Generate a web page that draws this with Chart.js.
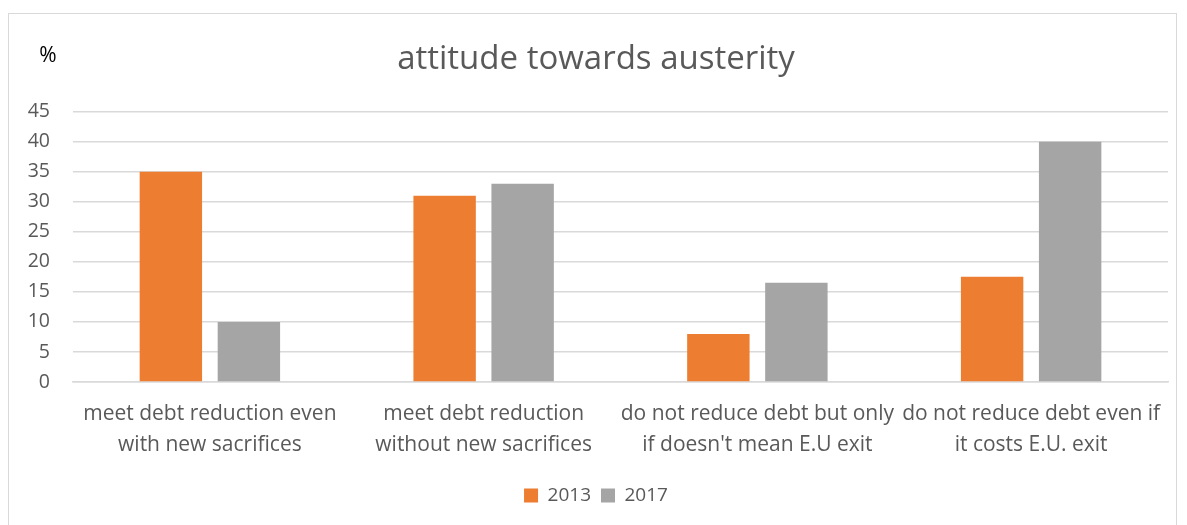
<!DOCTYPE html>
<html>
<head>
<meta charset="utf-8">
<script src="https://cdn.jsdelivr.net/npm/chart.js@4"></script>
<style>
  html, body { margin: 0; padding: 0; background: #fff; }
  #frame { position: absolute; left: 8px; top: 13px; width: 1169px; height: 540px; border: 1px solid #d9d9d9; box-sizing: border-box; }
  #chart { position: absolute; left: 0; top: 0; }
</style>
</head>
<body>
<div id="frame"></div>
<canvas id="chart" width="1187" height="525"></canvas>
<script>
const categories = [
  ['meet debt reduction even', 'with new sacrifices'],
  ['meet debt reduction', 'without new sacrifices'],
  ['do not reduce debt but only', "if doesn't mean E.U exit"],
  ['do not reduce debt even if', 'it costs E.U. exit']
];
const values2013 = [35, 31, 8, 17.5];
const values2017 = [10, 33, 16.5, 40];
const yTicks = { min: 0, max: 45, step: 5 };

const txt = '#595959';
const font = '"Open Sans", Lato, sans-serif';

// percent sign above the y axis
const percentLabel = {
  id: 'percentLabel',
  afterDraw(chart) {
    const ctx = chart.ctx;
    ctx.save();
    ctx.font = '21px ' + font;
    ctx.fillStyle = '#000';
    ctx.textAlign = 'center';
    ctx.textBaseline = 'middle';
    ctx.fillText('%', 48, 56);
    ctx.restore();
  }
};

new Chart(document.getElementById('chart'), {
  type: 'bar',
  data: {
    labels: categories,
    datasets: [
      { label: '2013', data: values2013, backgroundColor: '#ED7D31' },
      { label: '2017', data: values2017, backgroundColor: '#A5A5A5' }
    ]
  },
  options: {
    responsive: false,
    animation: false,
    layout: { padding: { left: 24, right: 19, top: 0, bottom: 10 } },
    datasets: { bar: { categoryPercentage: 0.57, barPercentage: 0.8 } },
    scales: {
      x: {
        grid: { display: false, drawTicks: false },
        border: { color: '#d9d9d9', width: 1.5 },
        ticks: { color: txt, font: { family: font, size: 21, lineHeight: 1.45 }, padding: 17, maxRotation: 0, autoSkip: false },
        afterFit(scale) { scale.height = 94; }
      },
      y: {
        min: yTicks.min,
        max: yTicks.max,
        grid: { color: '#d9d9d9', lineWidth: 1.5, drawTicks: false },
        border: { display: false },
        ticks: { stepSize: yTicks.step, color: txt, font: { family: font, size: 19.5 }, padding: 23 },
        afterFit(scale) { scale.width = 49; }
      }
    },
    plugins: {
      title: {
        display: true,
        text: 'attitude towards austerity',
        color: txt,
        font: { family: font, size: 33, weight: 'normal' },
        padding: { top: 40, bottom: 32 }
      },
      legend: {
        position: 'bottom',
        labels: { color: txt, font: { family: font, size: 19 }, boxWidth: 14, boxHeight: 14, padding: 10 }
      },
      tooltip: { enabled: false }
    }
  },
  plugins: [percentLabel]
});
</script>
</body>
</html>
